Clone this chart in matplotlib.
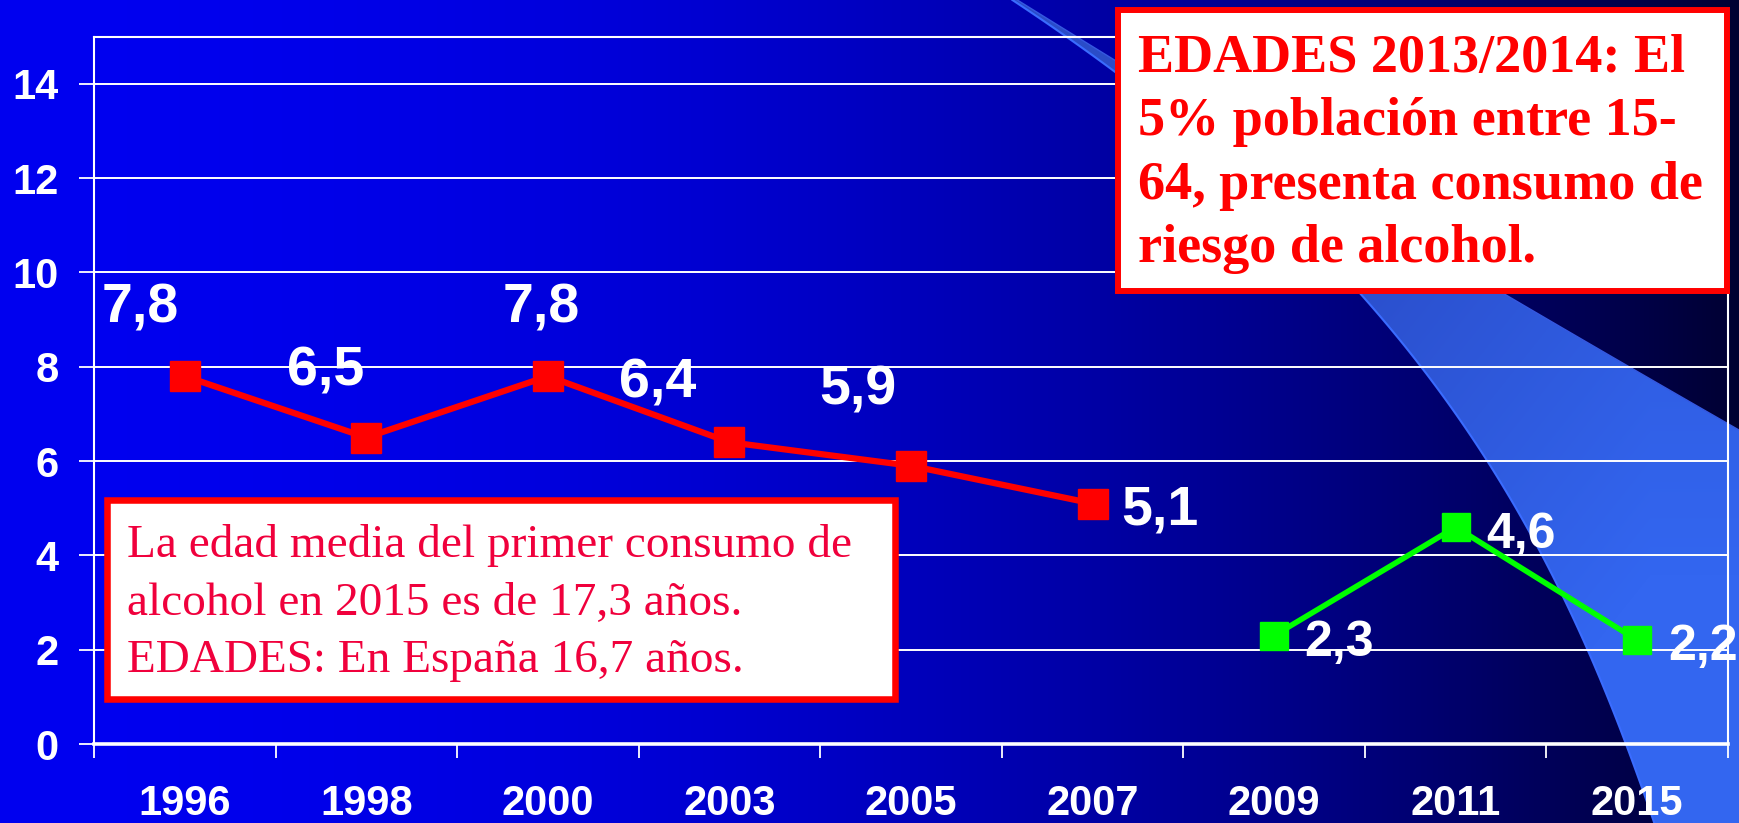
import numpy as np
import matplotlib
matplotlib.use("Agg")
import matplotlib.pyplot as plt
from matplotlib.patches import Rectangle, Polygon

# ---------------- data ----------------
years = ["1996", "1998", "2000", "2003", "2005", "2007", "2009", "2011", "2015"]
red_values = [7.8, 6.5, 7.8, 6.4, 5.9, 5.1, np.nan, np.nan, np.nan]
green_values = [np.nan, np.nan, np.nan, np.nan, np.nan, np.nan, 2.3, 4.6, 2.2]
red_labels = ["7,8", "6,5", "7,8", "6,4", "5,9", "5,1"]
green_labels = ["2,3", "4,6", "2,2"]
y_ticks = [0, 2, 4, 6, 8, 10, 12, 14]

box_right_lines = ["EDADES 2013/2014: El",
                   "5% población entre 15-",
                   "64, presenta consumo de",
                   "riesgo de alcohol."]
box_left_lines = ["La edad media del primer consumo de",
                  "alcohol en 2015 es de 17,3 años.",
                  "EDADES: En España 16,7 años."]

# label offsets (pixels, x right / y up) relative to the marker
red_offsets = [(-45, 54), (-41, 52), (-7, 54), (-72, 45), (-53, 61), (67, -21)]
green_offsets = [(65, -20), (65, -21), (66, -20)]

# ---------------- figure ----------------
W, H = 1739, 823
fig = plt.figure(figsize=(W / 100, H / 100), dpi=100)

# background
bg = fig.add_axes([0, 0, 1, 1], zorder=0)
bg.set_xlim(0, W)
bg.set_ylim(H, 0)
bg.axis("off")
xx = np.linspace(0, 1, W)
blue = (240 - 190 * xx ** 2) / 255.0
img = np.zeros((1, W, 3))
img[0, :, 2] = blue
bg.imshow(img, extent=[0, W, H, 0], aspect="auto", interpolation="bilinear")

# decorative swoosh (smooth edges)
lower_pts_y = np.array([0, 32, 63, 125, 195, 294, 418, 557, 695, 823])
lower_pts_x = np.array([1012, 1060, 1105, 1180, 1260, 1372, 1450, 1543, 1610, 1653])
cl = np.polyfit(lower_pts_y, lower_pts_x, 3)
ly = np.linspace(0, H, 120)
lx = np.polyval(cl, ly)
upper_pts_y = np.array([0, 60, 172, 297, 430])
upper_pts_x = np.array([1018, 1113, 1300, 1509, 1739])
cu = np.polyfit(upper_pts_y, upper_pts_x, 2)
uy = np.linspace(0, 430, 60)
ux = np.polyval(cu, uy)
verts = list(zip(ux, uy)) + [(W, 430), (W, H)] + list(zip(lx[::-1], ly[::-1]))
poly = Polygon(verts, closed=True, facecolor="none", edgecolor="none")
bg.add_patch(poly)
grad = np.zeros((H, W, 3))
ty = np.clip((np.arange(H)[:, None] - 200) / 450.0, 0, 1)
tx = np.clip((np.arange(W)[None, :] - 1350) / 300.0, 0, 1)
t = np.clip(0.6 * ty + 0.5 * tx, 0, 1)
grad[:, :, 0] = (42 + (51 - 42) * t) / 255
grad[:, :, 1] = (76 + (102 - 76) * t) / 255
grad[:, :, 2] = (200 + (240 - 200) * t) / 255
gim = bg.imshow(grad, extent=[0, W, H, 0], aspect="auto", interpolation="bilinear")
gim.set_clip_path(poly)
bg.plot(lx, ly, color="#3A6CFF", lw=1.5)
bg.plot(ux, uy, color="#3558E0", lw=1.0)

# main axes
ax = fig.add_axes([94 / W, 1 - 744 / H, (1728 - 94) / W, (744 - 36.7) / H], zorder=5)
ax.set_facecolor("none")
x = np.arange(len(years))
ax.plot(x, red_values, color="#FF0000", lw=4.5, marker="s", ms=21,
        mec="#FF0000", mfc="#FF0000", zorder=5, clip_on=False)
ax.plot(x, green_values, color="#00FF00", lw=4.0, marker="s", ms=20.5,
        mec="#00FF00", mfc="#00FF00", zorder=5, clip_on=False)

ax.set_xlim(-0.5, len(years) - 0.5)
ax.set_ylim(0, 15)
ax.set_yticks(y_ticks)
ax.set_xticks(x)
ax.set_xticklabels(years)
ax.set_xticks(np.arange(-0.5, len(years), 1), minor=True)

lab_font = dict(family="Liberation Sans", weight="bold")
for lbl in ax.get_xticklabels():
    lbl.set_fontproperties(matplotlib.font_manager.FontProperties(size=30, **lab_font))
for lbl in ax.get_yticklabels():
    lbl.set_fontproperties(matplotlib.font_manager.FontProperties(size=30, **lab_font))

ax.tick_params(axis="x", which="major", length=0, pad=29, labelcolor="white")
ax.tick_params(axis="x", which="minor", length=10, width=1.3, color="white", direction="out")
ax.tick_params(axis="y", which="major", length=10.5, width=1.3, color="white",
               direction="out", pad=15, labelcolor="white")
ax.grid(axis="y", color="white", lw=1.4)
ax.set_axisbelow(True)
for s in ["left", "right", "top"]:
    ax.spines[s].set_color("white")
    ax.spines[s].set_linewidth(1.5)
ax.spines["bottom"].set_color("white")
ax.spines["bottom"].set_linewidth(2.6)

for i, (lbl, off) in enumerate(zip(red_labels, red_offsets)):
    ax.annotate(lbl, (x[i], red_values[i]), xytext=off, textcoords="offset pixels",
                ha="center", va="baseline", color="white", fontsize=40,
                annotation_clip=False, zorder=6, **lab_font)
for j, (lbl, off) in enumerate(zip(green_labels, green_offsets)):
    i = 6 + j
    ax.annotate(lbl, (x[i], green_values[i]), xytext=off, textcoords="offset pixels",
                ha="center", va="baseline", color="white", fontsize=36,
                annotation_clip=False, zorder=6, **lab_font)

# foreground text boxes
fg = fig.add_axes([0, 0, 1, 1], zorder=10)
fg.set_xlim(0, W)
fg.set_ylim(H, 0)
fg.axis("off")
fg.patch.set_alpha(0)

fg.add_patch(Rectangle((1118, 10), 1727 - 1118, 291 - 10, facecolor="white",
                       edgecolor="#FF0000", lw=4.3))
for k, line in enumerate(box_right_lines):
    fg.text(1137.5, 72 + k * 63.3, line, fontsize=39, family="Liberation Serif",
            weight="bold", color="#FF0000", ha="left", va="baseline")

fg.add_patch(Rectangle((107.3, 500.3), 894.7 - 107.3, 698.7 - 500.3, facecolor="white",
                       edgecolor="#FF0000", lw=4.7))
for k, line in enumerate(box_left_lines):
    fg.text(127, 557 + k * 57.5, line, fontsize=34, family="Liberation Serif",
            color="#F0003C", ha="left", va="baseline")

fig.savefig("out.png", dpi=100)
